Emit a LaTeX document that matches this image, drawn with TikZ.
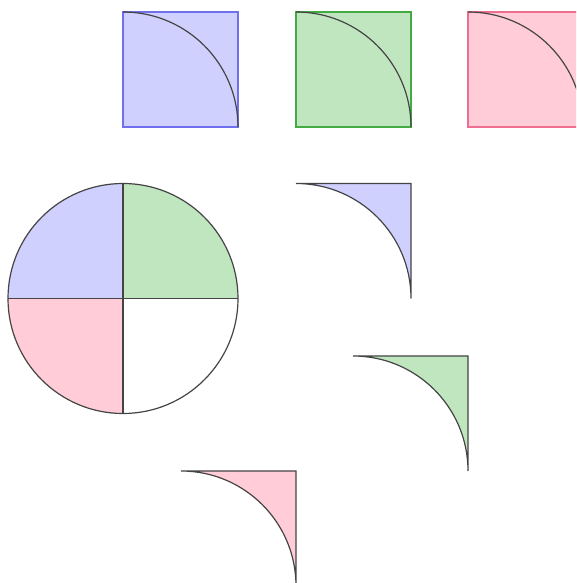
\documentclass[tikz,border=0pt]{standalone}
\definecolor{bfill}{HTML}{D0D0FF}
\definecolor{bline}{HTML}{7070EE}
\definecolor{gfill}{HTML}{C0E6C0}
\definecolor{gline}{HTML}{44AA44}
\definecolor{pfill}{HTML}{FFCCD8}
\definecolor{pline}{HTML}{EE6E90}
\definecolor{ink}{HTML}{444444}
\begin{document}
\begin{tikzpicture}[x=1pt,y=1pt,
  sq/.style={line width=1.3pt},
  inkline/.style={draw=ink,line width=1.2pt}]
\useasboundingbox (0,0) rectangle (576,583);
\clip (0,0) rectangle (576,583);
% top squares
\foreach \x/\f/\l in {123/bfill/bline,296/gfill/gline,468/pfill/pline}{
  \draw[sq,fill=\f,draw=\l] (\x,456) rectangle ++(115,115);
  \draw[inkline] (\x,571) arc[start angle=90,end angle=0,radius=115];
}
% circle
\fill[bfill] (123,284.5) -- (8,284.5) arc[start angle=180,end angle=90,radius=115] -- cycle;
\fill[gfill] (123,284.5) -- (238,284.5) arc[start angle=0,end angle=90,radius=115] -- cycle;
\fill[pfill] (123,284.5) -- (8,284.5) arc[start angle=180,end angle=270,radius=115] -- cycle;
\draw[inkline] (123,284.5) circle[radius=115];
\draw[inkline] (8,284.5) -- (238,284.5);
\draw[inkline] (123,169.5) -- (123,399.5);
% corner pieces
\foreach \x/\y/\f in {296/284.5/bfill,353/112/gfill,181/-3/pfill}{
  \draw[inkline,fill=\f] (\x,\y+115) -- (\x+115,\y+115) -- (\x+115,\y)
     arc[start angle=0,end angle=90,radius=115] -- cycle;
}
\end{tikzpicture}
\end{document}
